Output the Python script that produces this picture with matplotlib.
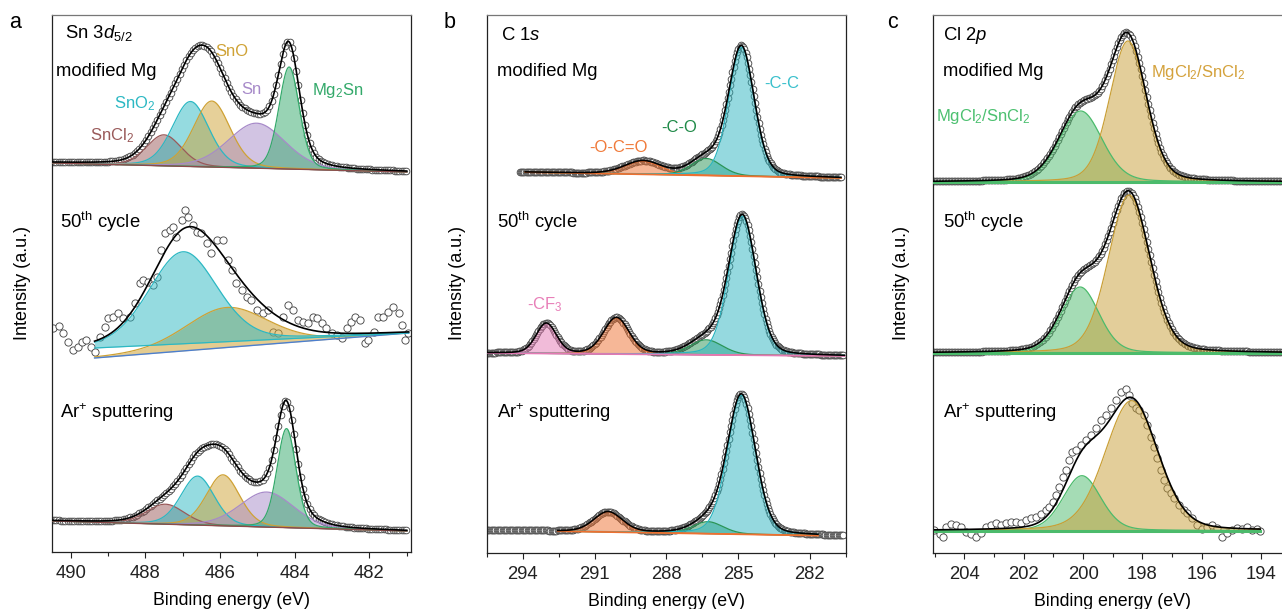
import numpy as np
import matplotlib.pyplot as plt
from matplotlib.ticker import MultipleLocator

plt.rcParams['font.family'] = ['Liberation Sans', 'DejaVu Sans']
plt.rcParams['mathtext.fontset'] = 'custom'
plt.rcParams['mathtext.rm'] = 'Liberation Sans'
plt.rcParams['mathtext.it'] = 'Liberation Sans:italic'

W, H = 1282, 609

# ---------------- a: Sn 3d5/2 ----------------
sn_labels = ['SnCl$_2$', 'SnO$_2$', 'SnO', 'Sn', 'Mg$_2$Sn']
sn_colors = ['#9a5a5a', '#2cb8c3', '#cfa235', '#a78ac9', '#33a96a']

sn_mod_pos = [487.50, 486.79, 486.22, 485.02, 484.15]
sn_mod_amp = [31, 65, 66, 45, 102]
sn_mod_fwhm = [1.10, 1.15, 1.15, 1.80, 0.65]
sn_mod_bg = [0, -9]

sn_ar_pos = [487.46, 486.60, 485.92, 484.75, 484.22]
sn_ar_amp = [20, 49, 51, 35, 99]
sn_ar_fwhm = [1.20, 1.05, 1.05, 1.70, 0.60]
sn_ar_bg = [0, -10]

# 50th cycle: SnO2 and SnO only, each on its own background
sn_cyc_pos = [486.99, 485.83]
sn_cyc_amp = [92, 40]
sn_cyc_fwhm = [2.15, 2.60]
sn_cyc_bg_sno2 = [10, 25]
sn_cyc_bg_sno = [0, 25]
sn_cyc_e = [490.47, 490.30, 490.21, 490.07, 489.94, 489.80, 489.71, 489.58, 489.45, 489.36,
            489.22, 489.09, 489.00, 488.87, 488.73, 488.60, 488.42, 488.28, 488.15, 488.06,
            487.93, 487.79, 487.70, 487.57, 487.48, 487.35, 487.26, 487.17, 487.03, 486.94,
            486.85, 486.72, 486.63, 486.50, 486.36, 486.23, 486.09, 485.92, 485.78, 485.69,
            485.56, 485.42, 485.29, 485.16, 485.02, 484.84, 484.71, 484.58, 484.44, 484.31,
            484.17, 484.04, 483.91, 483.77, 483.64, 483.50, 483.41, 483.28, 483.15, 483.01,
            482.88, 482.74, 482.61, 482.48, 482.39, 482.25, 482.12, 482.03, 481.89, 481.76,
            481.63, 481.49, 481.36, 481.22, 481.13, 481.05, 480.96]
sn_cyc_i = [29.7, 32.0, 24.7, 16.3, 8.0, 11.3, 16.3, 18.0, 11.3, 6.3,
            21.3, 31.3, 39.7, 41.3, 44.7, 39.7, 41.3, 54.7, 74.7, 78.0,
            76.3, 73.0, 81.3, 108.0, 124.7, 128.0, 131.3, 121.3, 138.0, 148.0,
            141.3, 133.0, 126.3, 124.7, 114.7, 104.7, 118.0, 118.0, 98.0, 88.0,
            74.7, 68.0, 61.3, 58.0, 48.0, 44.7, 48.0, 26.3, 24.7, 41.3,
            53.0, 48.0, 38.0, 36.3, 34.7, 41.3, 39.7, 34.7, 29.7, 24.7,
            23.0, 19.7, 29.7, 36.3, 41.3, 38.0, 14.7, 18.0, 26.3, 41.3,
            41.3, 46.3, 51.3, 44.7, 33.0, 18.0, 24.7]

# ---------------- b: C 1s ----------------
c1s_labels = ['-CF$_3$', '-O-C=O', '-C-O', '-C-C']
c1s_colors = ['#e479b4', '#ee7030', '#2a9556', '#2cb5c0']

c1s_mod_pos = [288.98, 286.33, 284.86]
c1s_mod_amp = [13, 17, 129]
c1s_mod_fwhm = [1.80, 1.50, 1.26]
c1s_mod_bg = [0, -6]

c1s_cyc_pos = [293.02, 290.09, 286.33, 284.82]
c1s_cyc_amp = [30, 36, 15, 139]
c1s_cyc_fwhm = [1.00, 1.25, 1.60, 1.36]
c1s_cyc_bg = [0, -3]

c1s_ar_pos = [290.44, 286.26, 284.86]
c1s_ar_amp = [20, 12, 139]
c1s_ar_fwhm = [1.40, 1.50, 1.39]
c1s_ar_bg = [0, -6]

# ---------------- c: Cl 2p ----------------
cl_labels = ['MgCl$_2$/SnCl$_2$', 'MgCl$_2$/SnCl$_2$']
cl_colors = ['#4cbb6c', '#c99f36']
cl_label_colors = ['#4cc070', '#d4a23c']

cl_mod_pos = [200.08, 198.49]
cl_mod_amp = [71, 141]
cl_mod_fwhm = [1.70, 1.45]

cl_cyc_pos = [200.10, 198.45]
cl_cyc_amp = [66, 158]
cl_cyc_fwhm = [1.50, 1.65]

cl_ar_pos = [200.04, 198.37]
cl_ar_amp = [55, 130]
cl_ar_fwhm = [1.50, 2.10]
cl_ar_e = [205.01, 204.84, 204.73, 204.62, 204.45, 204.28, 204.11, 203.94, 203.77, 203.61,
           203.44, 203.27, 203.10, 202.93, 202.77, 202.60, 202.43, 202.26, 202.09, 201.93,
           201.76, 201.59, 201.42, 201.25, 201.14, 201.03, 200.92, 200.81, 200.69, 200.58,
           200.47, 200.36, 200.25, 200.08, 199.91, 199.74, 199.57, 199.41, 199.24, 199.07,
           198.90, 198.73, 198.56, 198.45, 198.34, 198.23, 198.12, 197.95, 197.84, 197.72,
           197.61, 197.50, 197.39, 197.28, 197.16, 197.05, 196.94, 196.77, 196.60, 196.49,
           196.32, 196.16, 195.99, 195.82, 195.65, 195.48, 195.32, 195.15, 194.98, 194.81,
           194.64, 194.48, 194.31, 194.14, 194.03]
cl_ar_i = [0.7, -3.3, -6.0, 4.0, 6.7, 5.7, 4.0, -1.0, -3.3, -6.0,
           -2.6, 4.0, 5.7, 7.4, 5.7, 8.0, 9.0, 9.0, 8.0, 10.7,
           12.4, 14.0, 16.7, 20.7, 24.0, 29.0, 35.7, 44.0, 54.0, 60.7,
           70.7, 79.0, 80.7, 85.7, 90.7, 95.7, 102.4, 110.7, 115.7, 122.4,
           130.7, 139.0, 141.4, 135.7, 127.4, 122.4, 120.7, 115.7, 105.7, 94.0,
           84.0, 72.4, 60.7, 50.7, 42.4, 37.4, 32.4, 25.7, 20.7, 17.4,
           12.4, 5.7, 1.4, 4.0, 5.7, 2.4, -6.0, -2.6, 0.7, 2.4,
           1.4, 4.0, 0.7, 1.4, 0.0]


def pv(x, pos, amp, fwhm, eta=0.2):
    d = (x - pos) / fwhm
    return amp * ((1 - eta) * np.exp(-4 * np.log(2) * d ** 2) + eta / (1 + 4 * d ** 2))


def line_bg(x, bg, x0, x1):
    return bg[0] + (bg[1] - bg[0]) * (x - x0) / (x1 - x0)


def raw_marks(ax, x, y, ms=4.8):
    ax.plot(x, y, 'o', ms=ms, mfc='white', mec='#4a4a4a', mew=0.65, zorder=2)


def spectrum(ax, off, x0, x1, pos, amp, fwhm, bg, colors, bgcolor, bglw=1.0,
             fit=None, step=0.06, raw=True):
    xr = np.arange(x0, x1, -step)
    xf = np.linspace(x0, x1, 600) if fit is None else np.linspace(fit[0], fit[1], 600)
    bf = line_bg(xf, bg, x0, x1)
    env = bf.copy()
    for p, a, w, c in zip(pos, amp, fwhm, colors):
        comp = pv(xf, p, a, w)
        ax.fill_between(xf, off + bf, off + bf + comp, color=c, alpha=0.5, lw=0, zorder=3)
        ax.plot(xf, off + bf + comp, color=c, lw=0.9, zorder=4)
        env += comp
    ax.plot(xf, off + bf, color=bgcolor, lw=bglw, zorder=4)
    if raw:
        yr = line_bg(xr, bg, x0, x1)
        for p, a, w in zip(pos, amp, fwhm):
            yr = yr + pv(xr, p, a, w)
        raw_marks(ax, xr, off + yr)
    ax.plot(xf, off + env, color='black', lw=1.2, zorder=5)


fig = plt.figure(figsize=(W / 100, H / 100), dpi=100)


def make_axes(left, right, top, bottom, xlim, major, minor):
    ax = fig.add_axes([left / W, 1 - bottom / H, (right - left) / W, (bottom - top) / H])
    ax.set_xlim(*xlim)
    ax.set_ylim(0, bottom - top)
    ax.set_yticks([])
    ax.xaxis.set_major_locator(MultipleLocator(major))
    ax.xaxis.set_minor_locator(MultipleLocator(minor))
    ax.tick_params(axis='x', which='major', direction='out', length=4, width=0.8,
                   labelsize=13.3, pad=5.5, colors='#222222')
    ax.tick_params(axis='x', which='minor', direction='out', length=3, width=0.8,
                   colors='#222222')
    for s in ax.spines.values():
        s.set_linewidth(0.9)
        s.set_color('#222222')
    ax.spines['top'].set_color('#777777')
    ax.set_xlabel('Binding energy (eV)', fontsize=12.8, labelpad=7)
    return ax


ax_a = make_axes(52, 410.5, 15, 552, (490.5, 480.9), 2, 1)
ax_b = make_axes(487, 845.7, 15, 553, (295.5, 280.5), 3, 1.5)
ax_c = make_axes(933.3, 1292, 15, 553, (205.05, 192.96), 2, 1)

# panel a
spectrum(ax_a, 389, 490.5, 481.0, sn_mod_pos, sn_mod_amp, sn_mod_fwhm, sn_mod_bg,
         sn_colors, '#8d4b4b')
spectrum(ax_a, 31, 490.5, 481.0, sn_ar_pos, sn_ar_amp, sn_ar_fwhm, sn_ar_bg,
         sn_colors, '#8d4b4b')
off = 194
xf = np.linspace(489.36, 480.95, 600)
b_sno2 = line_bg(xf, sn_cyc_bg_sno2, 489.36, 480.95)
b_sno = line_bg(xf, sn_cyc_bg_sno, 489.36, 480.95)
raw_marks(ax_a, sn_cyc_e, off + np.array(sn_cyc_i), ms=5.2)
c_sno2 = pv(xf, sn_cyc_pos[0], sn_cyc_amp[0], sn_cyc_fwhm[0])
c_sno = pv(xf, sn_cyc_pos[1], sn_cyc_amp[1], sn_cyc_fwhm[1])
ax_a.fill_between(xf, off + b_sno, off + b_sno + c_sno, color=sn_colors[2], alpha=0.55, lw=0, zorder=3)
ax_a.plot(xf, off + b_sno + c_sno, color=sn_colors[2], lw=0.9, zorder=4)
ax_a.fill_between(xf, off + b_sno2, off + b_sno2 + c_sno2, color=sn_colors[1], alpha=0.5, lw=0, zorder=3)
ax_a.plot(xf, off + b_sno2 + c_sno2, color=sn_colors[1], lw=0.9, zorder=4)
ax_a.plot(xf, off + b_sno, color='#4c7fcf', lw=1.0, zorder=4)
ax_a.plot(xf, off + b_sno2, color=sn_colors[1], lw=0.9, zorder=4)
ax_a.plot(xf, off + b_sno2 + c_sno2 + c_sno, color='black', lw=1.2, zorder=5)

# panel b
sel = [1, 2, 3]
spectrum(ax_b, 381, 294.14, 280.68, c1s_mod_pos, c1s_mod_amp, c1s_mod_fwhm, c1s_mod_bg,
         [c1s_colors[i] for i in sel], c1s_colors[1], bglw=1.3, fit=(293.9, 280.7), step=0.05)
spectrum(ax_b, 200, 295.5, 280.55, c1s_cyc_pos, c1s_cyc_amp, c1s_cyc_fwhm, c1s_cyc_bg,
         c1s_colors, c1s_colors[0], bglw=1.3, step=0.05)
spectrum(ax_b, 23, 295.5, 280.55, c1s_ar_pos, c1s_ar_amp, c1s_ar_fwhm, c1s_ar_bg,
         [c1s_colors[i] for i in sel], c1s_colors[1], bglw=1.3, fit=(292.54, 281.66), step=0.05)

# panel c
spectrum(ax_c, 371, 205.06, 193.0, cl_mod_pos, cl_mod_amp, cl_mod_fwhm, [0, 0],
         cl_colors, cl_colors[0], bglw=2.2, step=0.05)
spectrum(ax_c, 200, 205.06, 193.0, cl_cyc_pos, cl_cyc_amp, cl_cyc_fwhm, [0, 0],
         cl_colors, cl_colors[0], bglw=2.2, step=0.05)
raw_marks(ax_c, cl_ar_e, 22.3 + np.array(cl_ar_i), ms=5.2)
spectrum(ax_c, 22.3, 205.0, 194.03, cl_ar_pos, cl_ar_amp, cl_ar_fwhm, [0, 0],
         cl_colors, cl_colors[0], bglw=2.2, raw=False)


def ptext(x, y, s, size=13.3, color='black', ha='left', **kw):
    fig.text(x / W, 1 - y / H, s, fontsize=size, color=color, ha=ha, va='center', **kw)


for x in (23, 457, 902):
    ptext(x, 283, 'Intensity (a.u.)', size=13, ha='center', rotation=90)
for x, s in ((15, 'a'), (450, 'b'), (893, 'c')):
    ptext(x, 22, s, size=15.5, ha='center')

ptext(65, 33, 'Sn 3$d$$_{5/2}$')
ptext(501, 35, 'C 1$s$')
ptext(943, 35, 'Cl 2$p$')
for x in (56, 497, 943):
    ptext(x, 72, 'modified Mg')
for x in (60, 497, 943):
    ptext(x, 222, '50$^{\\rm th}$ cycle')
    ptext(x, 413, 'Ar$^{+}$ sputtering')

a_lab_xy = [(111.7, 136), (135, 104), (231.7, 52), (251.7, 89), (338, 90)]
for (x, y), s, c in zip(a_lab_xy, sn_labels, sn_colors):
    ptext(x, y, s, size=12, color=c, ha='center')

b_lab_xy = [(545, 305), (618, 147), (679, 127), (782, 83)]
for (x, y), s, c in zip(b_lab_xy, c1s_labels, ['#e87fb8', '#f07a3a', '#1f8a48', '#3ac0cc']):
    ptext(x, y, s, size=12, color=c, ha='center')

c_lab_xy = [(983, 117), (1198, 72)]
for (x, y), s, c in zip(c_lab_xy, cl_labels, cl_label_colors):
    ptext(x, y, s, size=12, color=c, ha='center')

fig.savefig('out.png', dpi=100)
